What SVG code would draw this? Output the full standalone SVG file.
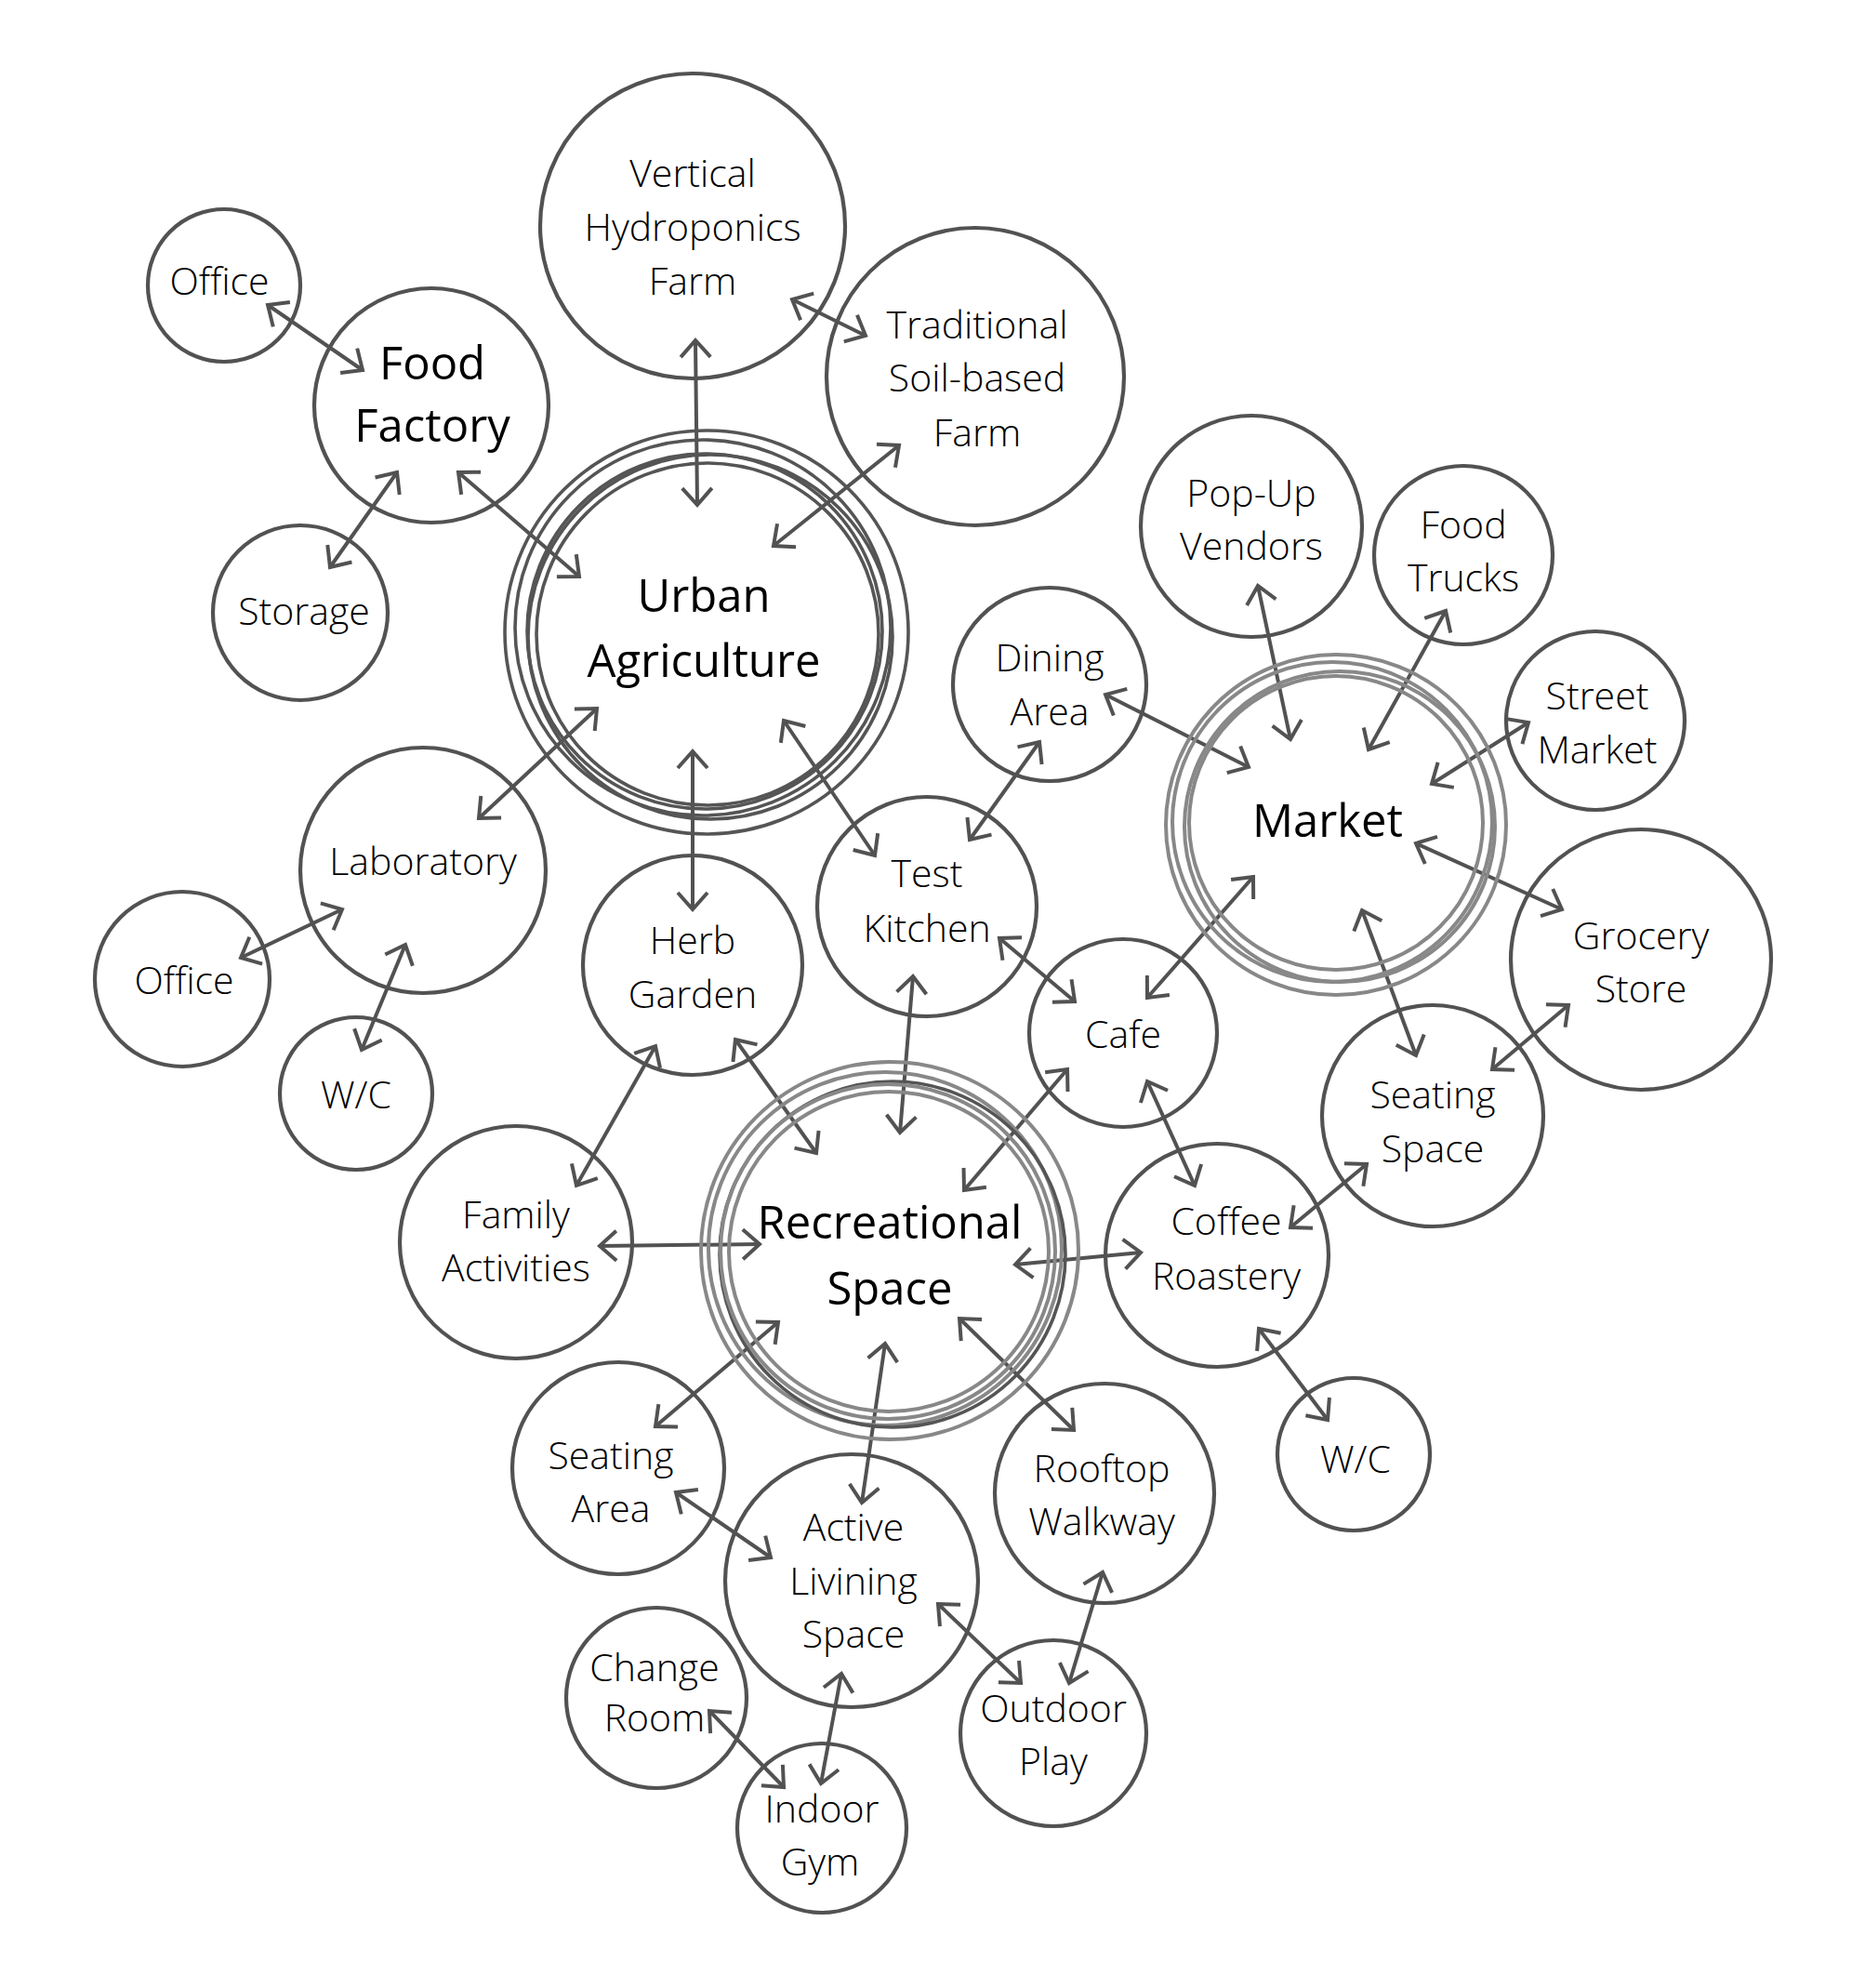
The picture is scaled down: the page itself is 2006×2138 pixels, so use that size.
<svg xmlns="http://www.w3.org/2000/svg" width="2006" height="2138" viewBox="0 0 2006 2138">
<style>
.n{fill:none;stroke:#525252;stroke-width:4.2}
.r{fill:none;stroke:#555;stroke-width:3.6}
.g{fill:none;stroke:#888;stroke-width:4}
.c line{stroke:#525252;stroke-width:4;marker-start:url(#a);marker-end:url(#a)}
text{font-family:"Open Sans","Liberation Sans",sans-serif;fill:#000;text-anchor:middle}
.s{font-size:41px;font-weight:300}
.m{font-size:49px;font-weight:400}
</style>
<defs>
<marker id="a" markerUnits="userSpaceOnUse" orient="auto-start-reverse" refX="0" refY="0" markerWidth="60" markerHeight="60" viewBox="-30 -30 60 60" overflow="visible">
<path d="M-18,-16 L0,0 L-18,16" fill="none" stroke="#525252" stroke-width="4"/>
</marker>
</defs>
<rect width="2006" height="2138" fill="#fff"/>
<g id="connectors" class="c">
<line x1="288" y1="328" x2="390" y2="398"/>
<line x1="427" y1="508" x2="355" y2="610"/>
<line x1="493" y1="508" x2="623" y2="620"/>
<line x1="748" y1="366" x2="750" y2="543"/>
<line x1="852" y1="322" x2="931" y2="361"/>
<line x1="967" y1="479" x2="832" y2="587"/>
<line x1="642" y1="762" x2="515" y2="880"/>
<line x1="745" y1="808" x2="745" y2="978"/>
<line x1="843" y1="775" x2="941" y2="920"/>
<line x1="368" y1="978" x2="259" y2="1030"/>
<line x1="436" y1="1016" x2="389" y2="1129"/>
<line x1="1118" y1="798" x2="1043" y2="903"/>
<line x1="1189" y1="747" x2="1343" y2="825"/>
<line x1="1353" y1="630" x2="1388" y2="795"/>
<line x1="1555" y1="657" x2="1472" y2="806"/>
<line x1="1644" y1="777" x2="1540" y2="843"/>
<line x1="1523" y1="907" x2="1680" y2="978"/>
<line x1="1465" y1="979" x2="1523" y2="1135"/>
<line x1="1348" y1="943" x2="1234" y2="1073"/>
<line x1="1687" y1="1081" x2="1605" y2="1150"/>
<line x1="1075" y1="1009" x2="1156" y2="1077"/>
<line x1="982" y1="1050" x2="968" y2="1218"/>
<line x1="791" y1="1118" x2="878" y2="1240"/>
<line x1="705" y1="1125" x2="620" y2="1275"/>
<line x1="645" y1="1340" x2="817" y2="1338"/>
<line x1="1148" y1="1150" x2="1037" y2="1280"/>
<line x1="1234" y1="1163" x2="1285" y2="1275"/>
<line x1="1092" y1="1360" x2="1227" y2="1347"/>
<line x1="1388" y1="1320" x2="1470" y2="1252"/>
<line x1="1354" y1="1429" x2="1428" y2="1527"/>
<line x1="837" y1="1422" x2="705" y2="1534"/>
<line x1="952" y1="1445" x2="927" y2="1616"/>
<line x1="1032" y1="1418" x2="1155" y2="1538"/>
<line x1="727" y1="1605" x2="829" y2="1675"/>
<line x1="1009" y1="1725" x2="1098" y2="1810"/>
<line x1="1186" y1="1691" x2="1150" y2="1810"/>
<line x1="905" y1="1800" x2="883" y2="1918"/>
<line x1="763" y1="1840" x2="843" y2="1922"/>
</g>
<g id="office1"><circle class="n" cx="241" cy="307" r="82"/><text class="s" x="236" y="317">Office</text></g>
<g id="food-factory"><circle class="n" cx="464" cy="436" r="126"/><text class="m" x="465" y="408">Food</text><text class="m" x="465" y="475">Factory</text></g>
<g id="storage"><circle class="n" cx="323" cy="659" r="94"/><text class="s" x="327" y="672">Storage</text></g>
<g id="vertical-hydroponics"><circle class="n" cx="745" cy="243" r="164"/><text class="s" x="745" y="201">Vertical</text><text class="s" x="745" y="259">Hydroponics</text><text class="s" x="745" y="317">Farm</text></g>
<g id="traditional-farm"><circle class="n" cx="1049" cy="405" r="160"/><text class="s" x="1051" y="364">Traditional</text><text class="s" x="1051" y="421">Soil-based</text><text class="s" x="1051" y="480">Farm</text></g>
<g id="urban-agriculture">
<circle class="r" cx="760" cy="680" r="217"/>
<circle class="r" cx="756" cy="675" r="202"/>
<circle class="r" cx="764" cy="685" r="196"/>
<circle class="r" cx="758" cy="679" r="191"/>
<circle class="r" cx="761" cy="682" r="184"/>
<text class="m" x="757" y="658">Urban</text><text class="m" x="757" y="728">Agriculture</text></g>
<g id="pop-up-vendors"><circle class="n" cx="1346" cy="566" r="119"/><text class="s" x="1346" y="545">Pop-Up</text><text class="s" x="1346" y="602">Vendors</text></g>
<g id="food-trucks"><circle class="n" cx="1574" cy="597" r="96"/><text class="s" x="1574" y="579">Food</text><text class="s" x="1574" y="636">Trucks</text></g>
<g id="street-market"><circle class="n" cx="1716" cy="775" r="96"/><text class="s" x="1718" y="763">Street</text><text class="s" x="1718" y="821">Market</text></g>
<g id="dining-area"><circle class="n" cx="1129" cy="736" r="104"/><text class="s" x="1129" y="722">Dining</text><text class="s" x="1129" y="780">Area</text></g>
<g id="market">
<circle class="g" cx="1437" cy="887" r="183"/>
<circle class="g" cx="1433" cy="884" r="172"/>
<circle class="g" cx="1441" cy="889" r="167"/>
<circle class="g" cx="1437" cy="885" r="158"/>
<text class="m" x="1428" y="900">Market</text></g>
<g id="grocery-store"><circle class="n" cx="1765" cy="1032" r="140"/><text class="s" x="1765" y="1021">Grocery</text><text class="s" x="1765" y="1078">Store</text></g>
<g id="laboratory"><circle class="n" cx="455" cy="936" r="132"/><text class="s" x="455" y="941">Laboratory</text></g>
<g id="office2"><circle class="n" cx="196" cy="1053" r="94"/><text class="s" x="198" y="1069">Office</text></g>
<g id="wc-left"><circle class="n" cx="383" cy="1176" r="82"/><text class="s" x="383" y="1192">W/C</text></g>
<g id="herb-garden"><circle class="n" cx="745" cy="1038" r="118"/><text class="s" x="745" y="1026">Herb</text><text class="s" x="745" y="1084">Garden</text></g>
<g id="test-kitchen"><circle class="n" cx="997" cy="975" r="118"/><text class="s" x="997" y="954">Test</text><text class="s" x="997" y="1013">Kitchen</text></g>
<g id="cafe"><circle class="n" cx="1208" cy="1111" r="101"/><text class="s" x="1208" y="1127">Cafe</text></g>
<g id="seating-space"><circle class="n" cx="1541" cy="1200" r="119"/><text class="s" x="1541" y="1192">Seating</text><text class="s" x="1541" y="1250">Space</text></g>
<g id="family-activities"><circle class="n" cx="555" cy="1336" r="125"/><text class="s" x="555" y="1321">Family</text><text class="s" x="555" y="1378">Activities</text></g>
<g id="recreational-space">
<circle class="g" cx="957" cy="1345" r="203"/>
<circle class="g" cx="952" cy="1343" r="190"/>
<circle class="r" cx="960" cy="1349" r="186"/>
<circle class="g" cx="955" cy="1346" r="180"/>
<circle class="g" cx="956" cy="1346" r="172"/>
<text class="m" x="957" y="1332">Recreational</text><text class="m" x="957" y="1403">Space</text></g>
<g id="coffee-roastery"><circle class="n" cx="1309" cy="1350" r="120"/><text class="s" x="1319" y="1328">Coffee</text><text class="s" x="1319" y="1387">Roastery</text></g>
<g id="wc-right"><circle class="n" cx="1456" cy="1564" r="82"/><text class="s" x="1458" y="1584">W/C</text></g>
<g id="seating-area"><circle class="n" cx="665" cy="1579" r="114"/><text class="s" x="657" y="1580">Seating</text><text class="s" x="657" y="1637">Area</text></g>
<g id="active-living"><circle class="n" cx="916" cy="1700" r="136"/><text class="s" x="918" y="1657">Active</text><text class="s" x="918" y="1715">Livining</text><text class="s" x="918" y="1772">Space</text></g>
<g id="rooftop-walkway"><circle class="n" cx="1188" cy="1606" r="118"/><text class="s" x="1185" y="1594">Rooftop</text><text class="s" x="1185" y="1651">Walkway</text></g>
<g id="change-room"><circle class="n" cx="706" cy="1826" r="97"/><text class="s" x="704" y="1808">Change</text><text class="s" x="704" y="1862">Room</text></g>
<g id="outdoor-play"><circle class="n" cx="1133" cy="1864" r="100"/><text class="s" x="1133" y="1852">Outdoor</text><text class="s" x="1133" y="1909">Play</text></g>
<g id="indoor-gym"><circle class="n" cx="884" cy="1966" r="91"/><text class="s" x="884" y="1960">Indoor</text><text class="s" x="882" y="2017">Gym</text></g>
</svg>
